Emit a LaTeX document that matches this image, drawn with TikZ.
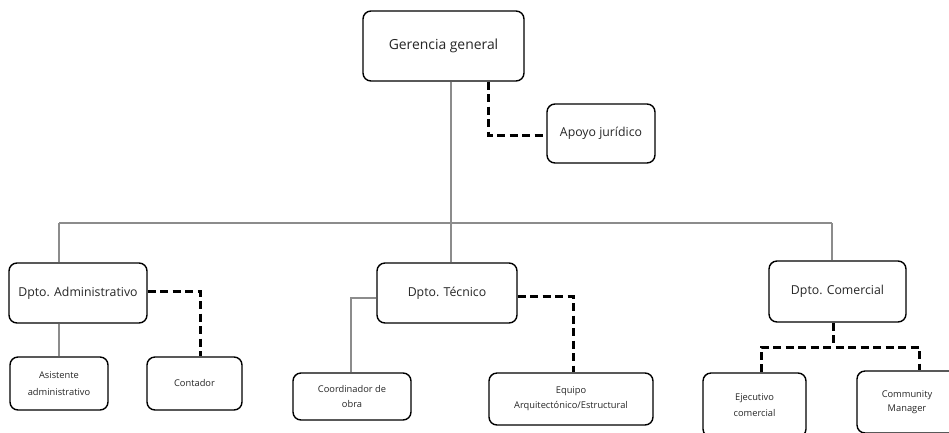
\documentclass[tikz,border=0pt]{standalone}
\usepackage{fontspec}
\setmainfont{Open Sans}
\usetikzlibrary{calc}
\tikzset{
  box/.style={draw=black, line width=1.4pt, rounded corners=8pt, fill=white, inner sep=0pt, align=center, text=black!85},
  big/.style={box, font=\fontsize{13.9}{16}\selectfont},
  mid/.style={box, font=\fontsize{12.3}{14}\selectfont},
  small/.style={box, font=\fontsize{9.3}{#1}\selectfont},
  small/.default=16,
  solidline/.style={draw=black!45, line width=1.2pt},
  dashline/.style={draw=black, line width=3pt, dash pattern=on 8pt off 4.5pt},
}
\begin{document}
\begin{tikzpicture}[x=1pt,y=-1pt]
\useasboundingbox (0,0) rectangle (949,432);
\clip (0,0) rectangle (949,432);
% nodes
\node[big, minimum width=161pt, minimum height=70pt] (gg) at (443.5,46) {Gerencia general};
\node[mid, minimum width=108pt, minimum height=59pt] (aj) at (601,133.5) {Apoyo jurídico};
\node[mid, minimum width=138pt, minimum height=60pt] (adm) at (78,293) {Dpto. Administrativo};
\node[small=17, minimum width=98pt, minimum height=53pt] (asis) at (59,383.5) {Asistente\\administrativo};
\node[small, minimum width=95pt, minimum height=53pt] (cont) at (194.5,383.5) {Contador};
\node[mid, minimum width=140pt, minimum height=60pt] (tec) at (447,293) {Dpto. Técnico};
\node[small=15, minimum width=118pt, minimum height=47pt] (coord) at (352,396.5) {Coordinador de\\obra};
\node[small=15, minimum width=164pt, minimum height=52pt] (equi) at (571,399) {Equipo\\Arquitectónico/Estructural};
\node[mid, minimum width=137pt, minimum height=61pt] (com) at (837.5,291.5) {Dpto. Comercial};
\node[small=16, minimum width=103pt, minimum height=64pt] (eje) at (754.5,405) {Ejecutivo\\comercial};
\node[small=14.5, minimum width=100pt, minimum height=62pt] (cm) at (907,402) {Community\\Manager};
% coordinates
\coordinate (bus) at (451,223);
\coordinate (busL) at (59,223);
\coordinate (busR) at (832,223);
\coordinate (ajturn) at (488,135);
\coordinate (contturn) at (200,291);
\coordinate (tecturn) at (573,296);
\coordinate (coordturn) at (351,298);
\coordinate (comjoin) at (833,347);
\coordinate (ejeturn) at (761,347);
\coordinate (cmturn) at (919,347);
% solid connectors
\draw[solidline] (gg.south -| bus) -- (bus);
\draw[solidline] (busL) -- (busR);
\draw[solidline] (busL) -- (busL |- adm.north);
\draw[solidline] (bus) -- (bus |- tec.north);
\draw[solidline] (busR) -- (busR |- com.north);
\draw[solidline] (busL |- adm.south) -- (busL |- asis.north);
\draw[solidline] (coordturn -| tec.west) -- (coordturn) -- (coordturn |- coord.north);
% dashed connectors
\draw[dashline] (ajturn |- gg.south) -- (ajturn) -- (ajturn -| aj.west);
\draw[dashline] (contturn -| adm.east) -- (contturn) -- (contturn |- cont.north);
\draw[dashline] (tecturn -| tec.east) -- (tecturn) -- (tecturn |- equi.north);
\draw[dashline] (comjoin |- com.south) -- (comjoin);
\draw[dashline] (ejeturn |- eje.north) -- (ejeturn) -- (cmturn) -- (cmturn |- cm.north);
\end{tikzpicture}
\end{document}
